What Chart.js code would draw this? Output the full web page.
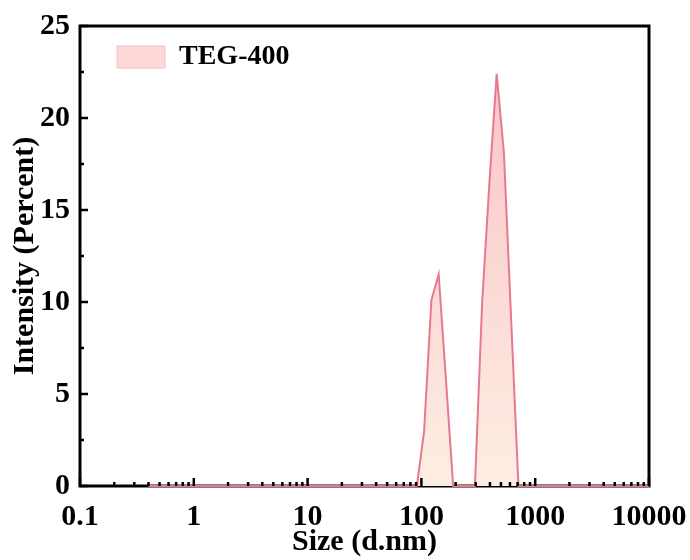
<!DOCTYPE html>
<html>
<head>
<meta charset="utf-8">
<script src="https://cdn.jsdelivr.net/npm/chart.js@4.4.0/dist/chart.umd.min.js"></script>
<style>
  html, body { margin: 0; padding: 0; background: #fff; }
  #wrap { width: 690px; height: 560px; }
</style>
</head>
<body>
<div id="wrap"><canvas id="dls"></canvas></div>
<script>
// DLS size bins (d.nm) and intensity (%)
const sizes = [
  0.4, 0.4632, 0.5365, 0.6213, 0.7195, 0.8332, 0.9649, 1.117, 1.294, 1.499,
  1.736, 2.010, 2.328, 2.696, 3.122, 3.615, 4.187, 4.849, 5.615, 6.503,
  7.531, 8.721, 10.10, 11.70, 13.54, 15.69, 18.17, 21.04, 24.36, 28.21,
  32.67, 37.84, 43.82, 50.75, 58.77, 68.06, 78.82, 91.28, 105.7, 122.4,
  141.8, 164.2, 190.1, 220.2, 255.0, 295.3, 342.0, 396.1, 458.7, 531.2,
  615.1, 712.4, 825.0, 955.4, 1106, 1281, 1484, 1718, 1990, 2305,
  2669, 3091, 3580, 4145, 4801, 5560, 6439, 7456, 8635, 10000
];
const intensity = [
  0, 0, 0, 0, 0, 0, 0, 0, 0, 0,
  0, 0, 0, 0, 0, 0, 0, 0, 0, 0,
  0, 0, 0, 0, 0, 0, 0, 0, 0, 0,
  0, 0, 0, 0, 0, 0, 0, 0, 3.0, 10.1,
  11.5, 5.8, 0, 0, 0, 0, 10.0, 16.5, 22.4, 18.1,
  9.0, 0, 0, 0, 0, 0, 0, 0, 0, 0,
  0, 0, 0, 0, 0, 0, 0, 0, 0, 0
];
const seriesName = 'TEG-400';
const xTicks = [0.1, 1, 10, 100, 1000, 10000];
const xTickLabels = ['0.1', '1', '10', '100', '1000', '10000'];
const yTicks = [0, 5, 10, 15, 20, 25];

const FONT = 'Liberation Serif, Times New Roman, serif';
const lineColor = '#e8788f';

function fillGradient(context) {
  const chart = context.chart;
  const a = chart.chartArea;
  if (!a) return 'rgba(252,220,215,1)';
  const g = chart.ctx.createLinearGradient(0, a.top + 40, 0, a.bottom);
  g.addColorStop(0, '#fac4c6');
  g.addColorStop(1, '#fdeee2');
  return g;
}

// frame + inward ticks, like the Origin plot
const frameTicks = {
  id: 'frameTicks',
  beforeDraw(chart) {
    // legend sits inside the plot, a bit in from the corner
    if (chart.legend && chart.chartArea) {
      chart.legend.left = chart.chartArea.left + 20;
      chart.legend.top = chart.chartArea.top;
    }
  },
  beforeDatasetsDraw(chart) {
    const { ctx, chartArea: a } = chart;
    ctx.save();
    ctx.strokeStyle = '#000';
    ctx.lineWidth = 3;
    ctx.strokeRect(a.left, a.top, a.right - a.left, a.bottom - a.top);
    ctx.restore();
  },
  afterDatasetsDraw(chart) {
    const { ctx, chartArea: a, scales } = chart;
    const x = scales.x, y = scales.y;
    ctx.save();
    ctx.strokeStyle = '#000';
    ctx.lineWidth = 2.5;
    ctx.beginPath();
    for (let d = -1; d < 4; d++) {
      const base = Math.pow(10, d);
      for (let k = 1; k < 10; k++) {
        const px = x.getPixelForValue(base * k);
        const len = k === 1 ? 8 : 4;
        ctx.moveTo(px, a.bottom);
        ctx.lineTo(px, a.bottom - len);
      }
    }
    const px = x.getPixelForValue(10000);
    ctx.moveTo(px, a.bottom);
    ctx.lineTo(px, a.bottom - 8);
    for (let v = 0; v <= 25; v += 2.5) {
      const py = y.getPixelForValue(v);
      const len = v % 5 === 0 ? 8 : 4;
      ctx.moveTo(a.left, py);
      ctx.lineTo(a.left + len, py);
    }
    ctx.stroke();
    ctx.restore();
  }
};

new Chart(document.getElementById('dls'), {
  type: 'scatter',
  data: {
    datasets: [{
      label: seriesName,
      data: sizes.map((s, i) => ({ x: s, y: intensity[i] })),
      showLine: true,
      borderColor: lineColor,
      borderWidth: 2,
      backgroundColor: fillGradient,
      fill: 'origin',
      pointRadius: 0,
      tension: 0,
      clip: 3
    }]
  },
  options: {
    responsive: true,
    maintainAspectRatio: false,
    animation: false,
    layout: { padding: { left: 0, right: 41, top: 26, bottom: 0 } },
    plugins: {
      tooltip: { enabled: false },
      legend: {
        position: 'chartArea',
        align: 'start',
        labels: {
          boxWidth: 48,
          boxHeight: 22,
          padding: 17,
          color: '#000',
          font: { family: FONT, size: 28, weight: 'bold' },
          generateLabels: () => [{
            text: seriesName,
            fillStyle: '#fcd9d6',
            strokeStyle: '#f5c0c4',
            lineWidth: 1,
            hidden: false,
            datasetIndex: 0
          }]
        }
      }
    },
    scales: {
      x: {
        type: 'logarithmic',
        position: 'bottom',
        min: 0.1,
        max: 10000,
        grid: { display: false, drawTicks: false },
        border: { display: false },
        afterBuildTicks: s => { s.ticks = xTicks.map(v => ({ value: v })); },
        afterFit: s => { s.height = 74; s.paddingLeft = 0; s.paddingRight = 0; },
        ticks: {
          autoSkip: false,
          maxRotation: 0,
          padding: 13,
          color: '#000',
          font: { family: FONT, size: 30, weight: 'bold' },
          callback: (v, i) => xTickLabels[i]
        },
        title: {
          display: true,
          text: 'Size (d.nm)',
          color: '#000',
          padding: { top: -2, bottom: 0 },
          font: { family: FONT, size: 30, weight: 'bold' }
        }
      },
      y: {
        type: 'linear',
        min: 0,
        max: 25,
        grid: { display: false, drawTicks: false },
        border: { display: false },
        afterBuildTicks: s => { s.ticks = yTicks.map(v => ({ value: v })); },
        afterFit: s => { s.width = 80; s.paddingTop = 0; s.paddingBottom = 0; },
        ticks: {
          padding: 10,
          color: '#000',
          font: { family: FONT, size: 30, weight: 'bold' }
        },
        title: {
          display: true,
          text: 'Intensity (Percent)',
          color: '#000',
          padding: { top: 7, bottom: 0 },
          font: { family: FONT, size: 30, weight: 'bold' }
        }
      }
    }
  },
  plugins: [frameTicks]
});
</script>
</body>
</html>
